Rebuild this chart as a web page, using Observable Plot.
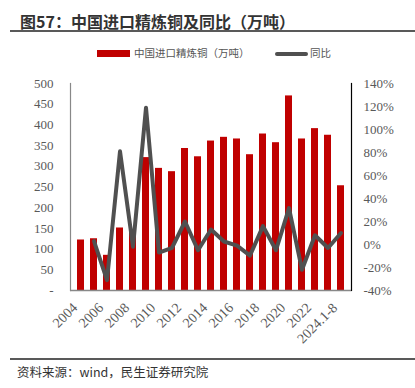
<!DOCTYPE html>
<html>
<head>
<meta charset="utf-8">
<script src="https://cdn.jsdelivr.net/npm/d3@7"></script>
<script src="https://cdn.jsdelivr.net/npm/@observablehq/plot@0.6"></script>
<style>
  html, body { margin: 0; padding: 0; background: #fff; }
  #wrap { position: relative; width: 415px; height: 388px; overflow: hidden; background: #fff; }
  #chart { position: absolute; left: 0; top: 0; }
  .title { position: absolute; left: 20px; top: 9px; font-family: "Noto Sans CJK SC", sans-serif; font-weight: bold; font-size: 16px; color: #333; line-height: 24px; white-space: nowrap; }
  .hline { position: absolute; height: 0; border-top: 2px solid #595959; }
  .footer { position: absolute; left: 17px; top: 364px; font-family: "Noto Sans CJK SC", sans-serif; font-size: 12.5px; color: #333; white-space: nowrap; line-height: 16px; }
  .legend { position: absolute; top: 45px; font-family: "Noto Sans CJK SC", sans-serif; font-size: 10.5px; color: #555; white-space: nowrap; line-height: 16px; }
  .sw { position: absolute; }
</style>
</head>
<body>
<div id="wrap">
  <div id="chart"></div>
  <div class="title">图57：中国进口精炼铜及同比（万吨）</div>
  <div class="hline" style="left:10px; width:405px; top:30px;"></div>
  <div class="sw" style="left:97px; top:50px; width:33px; height:7px; background:#c00000;"></div>
  <div class="legend" style="left:134px;">中国进口精炼铜（万吨）</div>
  <div class="sw" style="left:275px; top:52px; width:33px; height:4px; background:#505050; border-radius:2px;"></div>
  <div class="legend" style="left:310px;">同比</div>
  <div class="hline" style="left:10px; width:405px; top:358px;"></div>
  <div class="footer">资料来源：wind，民生证券研究院</div>
</div>
<script>
const years = ["2004","2005","2006","2007","2008","2009","2010","2011","2012","2013","2014","2015","2016","2017","2018","2019","2020","2021","2022","2023","2024.1-8"];
const imports = [122,125,85,151,146,321,295,287,343,323,361,370,366,328,378,357,470,366,391,375,253];
const yoy = [null,3,-31,81,-2,119,-7,-3,20,-5,13,2.6,-1,-9.6,16,-5,31.6,-22,8,-3,10];
const leftTicks = [0,50,100,150,200,250,300,350,400,450,500];
const rightTicks = [-40,-20,0,20,40,60,80,100,120,140];

const pctMin = -40, pctMax = 140, yMax = 500;
const toLeft = p => (p - pctMin) / (pctMax - pctMin) * yMax;
const toPct = v => v / yMax * (pctMax - pctMin) + pctMin;

const barData = years.map((y, i) => ({year: y, value: imports[i]}));
const lineData = years.map((y, i) => ({year: y, pct: yoy[i]})).filter(d => d.pct !== null);

const serif = "'Liberation Serif', 'Times New Roman', serif";

const chart = Plot.plot({
  width: 415,
  height: 388,
  marginLeft: 70,
  marginRight: 64,
  marginTop: 83,
  marginBottom: 98,
  style: {fontFamily: serif, fontSize: "13px", color: "#595959", background: "transparent"},
  x: {type: "band", domain: years, padding: 0.5, label: null},
  y: {domain: [0, yMax], label: null},
  marks: [
    Plot.barY(barData, {x: "year", y: "value", fill: "#c00000"}),
    Plot.lineY(lineData, {x: "year", y: d => toLeft(d.pct), stroke: "#505050", strokeWidth: 4, strokeLinejoin: "round", strokeLinecap: "round"}),
    Plot.frame({anchor: "left", stroke: "#888", strokeWidth: 1.2}),
    Plot.frame({anchor: "right", stroke: "#000", strokeWidth: 1.2}),
    Plot.ruleY([0], {stroke: "#888", strokeWidth: 1.5}),
    Plot.axisY(leftTicks, {anchor: "left", tickSize: 0, tickPadding: 17, tickFormat: d => d === 0 ? "-" : String(d), fill: "#595959", fontSize: 13}),
    Plot.axisY(rightTicks.map(toLeft), {anchor: "right", tickSize: 0, tickPadding: 12, tickFormat: v => Math.round(toPct(v)) + "%", fill: "#595959", fontSize: 13}),
    Plot.axisX({tickSize: 0, tickPadding: 6, tickRotate: -45, dx: -6, dy: 9, tickFormat: (d, i) => i % 2 === 0 ? d : "", fill: "#595959", fontSize: 14})
  ]
});
document.getElementById("chart").appendChild(chart);
</script>
</body>
</html>
